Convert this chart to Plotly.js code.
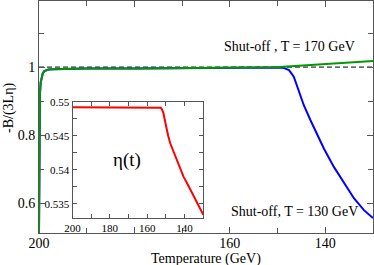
<!DOCTYPE html>
<html>
<head>
<meta charset="utf-8">
<script src="https://cdn.plot.ly/plotly-3.0.1.min.js"></script>
<style>html,body{margin:0;padding:0;background:#fff;}</style>
</head>
<body>
<div id="chart" style="width:374px;height:265px;"></div>
<script>
// Shut-off at T = 170 GeV (green)
const T_green = [200, 199.92, 199.8, 199.65, 199.45, 199.2, 198.9, 198.5, 198, 197, 195, 190, 180, 170, 160, 153, 150.5, 148, 145, 140, 135, 130];
const B_green = [0.513, 0.75, 0.92, 0.955, 0.972, 0.982, 0.988, 0.991, 0.993, 0.994, 0.995, 0.9955, 0.996, 0.9965, 0.997, 0.998, 0.9995, 1.0015, 1.0043, 1.009, 1.0135, 1.018];
// Shut-off at T = 130 GeV (blue)
const T_blue = [200, 199.92, 199.8, 199.65, 199.45, 199.2, 198.9, 198.5, 198, 197, 195, 190, 180, 170, 160, 153, 150.5, 149.5, 148.6, 147.6, 146.6, 145.5, 144.5, 143.1, 141.7, 140.3, 138.2, 136.1, 134.0, 131.9, 130.0];
const B_blue = [0.513, 0.75, 0.92, 0.955, 0.972, 0.982, 0.988, 0.991, 0.993, 0.994, 0.995, 0.9955, 0.996, 0.9965, 0.997, 0.998, 0.9995, 0.999, 0.997, 0.991, 0.972, 0.928, 0.888, 0.844, 0.800, 0.761, 0.707, 0.659, 0.615, 0.580, 0.557];
// reference line
const T_ref = [200, 130];
const B_ref = [1, 1];
// inset eta(t)
const T_eta = [200, 155, 153.5, 152.7, 152.0, 151.3, 150.6, 149.9, 148.8, 147.7, 146, 144.2, 142.4, 140.6, 138.8, 137, 135.2, 133.4, 131.7, 130];
const eta = [0.5492, 0.5492, 0.5492, 0.5491, 0.5488, 0.5483, 0.5473, 0.5463, 0.5450, 0.5439, 0.5427, 0.54145, 0.5402, 0.5390, 0.5381, 0.5371, 0.5361, 0.5351, 0.5342, 0.5334];

// tick labels
const mainXTicks = [200, 180, 160, 140];
const mainXTickText = ['200', '', '160', '140'];
const mainXMinor = [190, 170, 150, 130];
const mainYTicks = [0.6, 0.8, 1.0];
const mainYTickText = ['0.6', '0.8', '1'];
const mainYMinor = [0.7, 0.9, 1.1];
const insetXTicks = [200, 180, 160, 140];
const insetXMinor = [190, 170, 150, 130];
const insetYTicks = [0.55, 0.545, 0.54, 0.535];
const insetYTickText = ['0.55', '0.545', '0.54', '0.535'];
const insetYMinor = [0.5475, 0.5425, 0.5375];

const FONT = 'Liberation Serif, Times New Roman, serif';
const AX = '#555';

const traces = [
  {x: T_ref, y: B_ref, mode: 'lines', line: {color: '#000', width: 1, dash: '5px,3px'}, xaxis: 'x', yaxis: 'y', hoverinfo: 'skip'},
  {x: T_blue, y: B_blue, mode: 'lines', line: {color: '#0000ff', width: 2}, xaxis: 'x', yaxis: 'y'},
  {x: T_green, y: B_green, mode: 'lines', line: {color: '#009a00', width: 2}, xaxis: 'x', yaxis: 'y'},
  {x: T_eta, y: eta, mode: 'lines', line: {color: '#ff0000', width: 2}, xaxis: 'x2', yaxis: 'y2'}
];

function axisBase(len) {
  return {
    showline: true, linecolor: AX, linewidth: 1, mirror: 'ticks',
    ticks: 'inside', ticklen: len, tickwidth: 1, tickcolor: AX,
    showgrid: false, zeroline: false, tickmode: 'array'
  };
}

const layout = {
  width: 374, height: 265,
  margin: {l: 39, r: 1, t: 1, b: 32},
  paper_bgcolor: '#fff', plot_bgcolor: '#fff',
  showlegend: false,
  font: {family: FONT, size: 14, color: '#000'},
  xaxis: Object.assign(axisBase(6), {
    domain: [0, 1], anchor: 'y', range: [200, 130],
    tickvals: mainXTicks, ticktext: mainXTickText,
    minor: {tickmode: 'array', tickvals: mainXMinor, ticks: 'inside', ticklen: 5, tickcolor: AX, showgrid: false},
    tickfont: {family: FONT, size: 14},
    ticklabelstandoff: -3
  }),
  yaxis: Object.assign(axisBase(6), {
    domain: [0, 1], anchor: 'x', range: [0.513, 1.194],
    tickvals: mainYTicks, ticktext: mainYTickText,
    minor: {tickmode: 'array', tickvals: mainYMinor, ticks: 'inside', ticklen: 5, tickcolor: AX, showgrid: false},
    tickfont: {family: FONT, size: 14}
  }),
  xaxis2: Object.assign(axisBase(4), {
    domain: [0.1003, 0.4919], anchor: 'y2', range: [200, 130],
    tickvals: insetXTicks,
    minor: {tickmode: 'array', tickvals: insetXMinor, ticks: 'inside', ticklen: 4, tickcolor: AX, showgrid: false},
    tickfont: {family: FONT, size: 11}
  }),
  yaxis2: Object.assign(axisBase(4), {
    domain: [0.0668, 0.566], anchor: 'x2', range: [0.533, 0.55],
    tickvals: insetYTicks, ticktext: insetYTickText,
    minor: {tickmode: 'array', tickvals: insetYMinor, ticks: 'inside', ticklen: 4, tickcolor: AX, showgrid: false},
    tickfont: {family: FONT, size: 11}
  }),
  annotations: [
    {text: 'Temperature (GeV)', xref: 'paper', yref: 'paper', x: 0.5, y: -0.112,
     showarrow: false, xanchor: 'center', yanchor: 'middle', font: {family: FONT, size: 14}},
    {text: '-B/(3Lη)', xref: 'paper', yref: 'paper', x: -0.0898, y: 0.539, textangle: -90,
     showarrow: false, xanchor: 'center', yanchor: 'middle', font: {family: FONT, size: 14}},
    {text: 'Shut-off , T = 170 GeV', xref: 'x', yref: 'y', x: 147.4, y: 1.0616,
     showarrow: false, xanchor: 'center', yanchor: 'middle', font: {family: FONT, size: 14}},
    {text: 'Shut-off, T = 130 GeV', xref: 'x', yref: 'y', x: 146.55, y: 0.5774,
     showarrow: false, xanchor: 'center', yanchor: 'middle', font: {family: FONT, size: 14}},
    {text: 'η(t)', xref: 'x2', yref: 'y2', x: 170.8, y: 0.54145,
     showarrow: false, xanchor: 'center', yanchor: 'middle', font: {family: FONT, size: 19}}
  ]
};

Plotly.newPlot('chart', traces, layout, {staticPlot: true, displayModeBar: false});
</script>
</body>
</html>
